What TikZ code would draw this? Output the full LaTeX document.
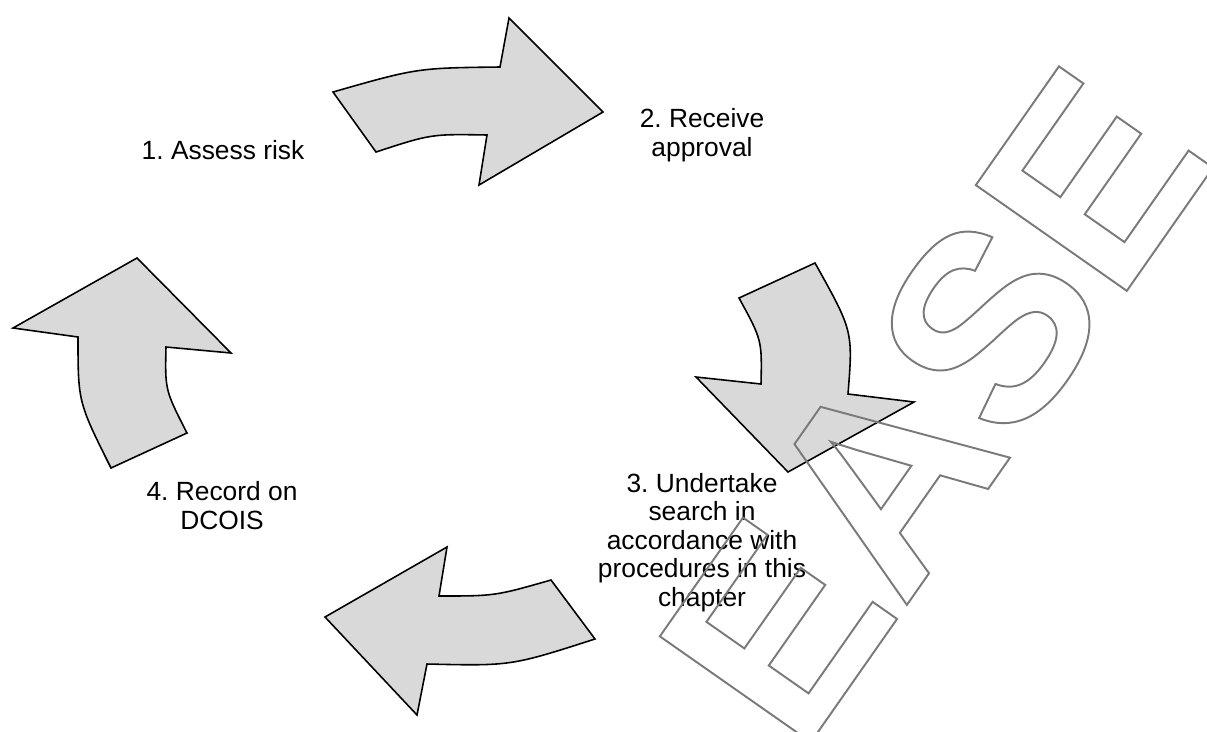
\documentclass[tikz,border=0pt]{standalone}
\usepackage{fontspec}
\setmainfont{Liberation Sans}
\usepackage{tikz}
\frenchspacing

\begin{document}
\begin{tikzpicture}[x=0.02cm, y=-0.02cm,
	blockarrow/.style={draw=black, fill=gray!30, line width=0.9pt, line join=miter},
	steplabel/.style={font=\fontsize{15}{16.2}\selectfont, align=center, inner sep=0pt, anchor=base},
	stamp/.style={font=\fontsize{152.5}{160}\selectfont\bfseries, text=black!52, inner sep=0pt, anchor=base west, rotate=55}]
	\useasboundingbox (0,0) rectangle (1207,731);
	
	\filldraw[blockarrow] (333,92) .. controls (417,68) .. (500,67) -- (509,18) -- (603,112) -- (479,185) -- (487,135) .. controls (431,134) .. (376,152) -- cycle;
	\filldraw[blockarrow] (815,263) .. controls (853,331) .. (848,394) -- (914,402) -- (788,472) -- (696,377) -- (761,384) .. controls (762,340) .. (739,298) -- cycle;
	\filldraw[blockarrow] (595,639) .. controls (511,666) .. (427,664) -- (417,715) -- (325,617) -- (447,547) -- (439,596) .. controls (495,596) .. (551,580) -- cycle;
	\filldraw[blockarrow] (111,468) .. controls (78,402) .. (78,337) -- (13,328) -- (137,258) -- (231,353) -- (166,347) .. controls (165,390) .. (187,433) -- cycle;
	
	\node[steplabel] (assess) at (223,159) {1. Assess risk};
	\node[steplabel] (receive) at (702,156) {2. Receive\\approval};
	\node[steplabel] (undertake) at (702,606) {3. Undertake\\search in\\accordance with\\procedures in this\\chapter};
	\node[steplabel] (record) at (222,529) {4. Record on\\DCOIS};
	
	\begin{scope}
		\clip (0,0) rectangle (1207,731);
		\node[stamp] (release) at (493,1196) {\special{pdf:literal direct 1 Tr 1.1 w}RELEASE\special{pdf:literal direct 0 Tr}};
	\end{scope}
\end{tikzpicture}
\end{document}
